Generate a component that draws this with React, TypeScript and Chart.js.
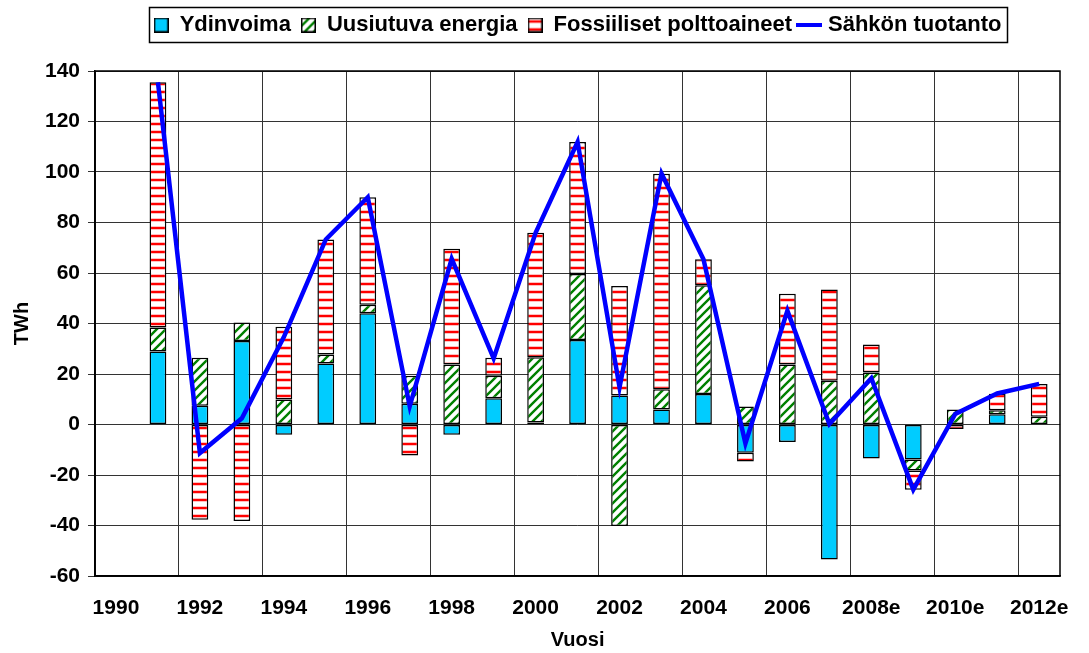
import React, { useEffect, useRef } from 'react';
import { Chart, registerables } from 'chart.js';

Chart.register(...registerables);

const categories = [
  '1990', '1991', '1992', '1993', '1994', '1995', '1996', '1997', '1998', '1999',
  '2000', '2001', '2002', '2003', '2004', '2005', '2006', '2007', '2008e', '2009e',
  '2010e', '2011e', '2012e',
];
const ydinvoima = [null, 28.9, 7.4, 33.1, -4.1, 24.2, 44.1, 8.2, -4.1, 10.4, 0.8, 33.5, 11.5, 5.9, 12.1, -11.2, -6.9, -53.5, -13.5, -13.9, 0, 4.1, 0];
const uusiutuva = [null, 9.5, 19.0, 7.3, 9.9, 3.5, 3.3, 11.1, 23.8, 8.9, 25.8, 26.1, -40.2, 8.1, 43.0, 7.1, 23.8, 17.3, 20.6, -4.3, 5.9, 1.5, 3.1];
const fossiiliset = [null, 97.1, -37.7, -38.2, 28.8, 45.6, 42.6, -12.3, 45.8, 7.1, 49.3, 52.3, 43.4, 85.3, 10.3, -3.5, 28.0, 36.2, 11.1, -7.6, -1.8, 6.6, 12.9];
const tuotanto = [null, 135.5, -11.3, 2.5, 34.6, 73.3, 90.0, 7.2, 65.6, 26.2, 75.9, 111.9, 14.7, 99.4, 65.4, -7.5, 45.1, 0.2, 18.3, -25.8, 4.2, 12.3, 16.1];
const seriesNames = ['Ydinvoima', 'Uusiutuva energia', 'Fossiiliset polttoaineet', 'Sähkön tuotanto'];
const yTicks = { min: -60, max: 140, step: 20 };

const FONT = "'Liberation Sans', Arial, sans-serif";

function hatchTile(): HTMLCanvasElement {
  const c = document.createElement('canvas');
  c.width = 9; c.height = 9;
  const g = c.getContext('2d')!;
  g.fillStyle = '#ffffff';
  g.fillRect(0, 0, 9, 9);
  g.strokeStyle = '#008000';
  g.lineWidth = 2.4;
  g.beginPath();
  g.moveTo(-2, 11); g.lineTo(11, -2);
  g.moveTo(-3, 3); g.lineTo(3, -3);
  g.moveTo(6, 12); g.lineTo(12, 6);
  g.stroke();
  return c;
}

function stripeTile(): HTMLCanvasElement {
  const c = document.createElement('canvas');
  c.width = 8; c.height = 8;
  const g = c.getContext('2d')!;
  g.fillStyle = '#ffffff';
  g.fillRect(0, 0, 8, 8);
  g.fillStyle = '#ffc0c0';
  g.fillRect(0, 2, 8, 1);
  g.fillRect(0, 5, 8, 1);
  g.fillStyle = '#ff0000';
  g.fillRect(0, 3, 8, 2);
  return c;
}

function pattern(tile: HTMLCanvasElement): CanvasPattern {
  return tile.getContext('2d')!.createPattern(tile, 'repeat')!;
}

function boxIcon(fill: string | HTMLCanvasElement): HTMLCanvasElement {
  const c = document.createElement('canvas');
  c.width = 15; c.height = 15;
  const g = c.getContext('2d')!;
  g.fillStyle = typeof fill === 'string' ? fill : g.createPattern(fill, 'repeat')!;
  g.fillRect(0, 0, 15, 15);
  g.strokeStyle = '#000';
  g.lineWidth = 1.5;
  g.strokeRect(0.75, 0.75, 13.5, 13.5);
  return c;
}

function lineIcon(): HTMLCanvasElement {
  const c = document.createElement('canvas');
  c.width = 26; c.height = 4;
  const g = c.getContext('2d')!;
  g.fillStyle = '#0000ff';
  g.fillRect(0, 0, 26, 4);
  return c;
}

const frames = {
  id: 'frames',
  beforeDatasetsDraw(chart: any) {
    const { ctx, chartArea: a } = chart;
    ctx.save();
    ctx.strokeStyle = '#000';
    ctx.lineWidth = 1.5;
    ctx.strokeRect(Math.round(a.left), Math.round(a.top), Math.round(a.right - a.left), Math.round(a.bottom - a.top));
    ctx.restore();
  },
  afterDraw(chart: any) {
    const lg = chart.legend;
    if (!lg || !lg.legendHitBoxes || !lg.legendHitBoxes.length) return;
    let x0 = Infinity, x1 = -Infinity, y0 = Infinity, y1 = -Infinity;
    lg.legendHitBoxes.forEach((b: any) => {
      x0 = Math.min(x0, b.left); x1 = Math.max(x1, b.left + b.width);
      y0 = Math.min(y0, b.top); y1 = Math.max(y1, b.top + b.height);
    });
    const { ctx } = chart;
    ctx.save();
    ctx.strokeStyle = '#000';
    ctx.lineWidth = 1.5;
    ctx.strokeRect(Math.round(x0 - 5) + 0.5, Math.round(y0 - 7) + 0.5, Math.round(x1 - x0 + 10), Math.round(y1 - y0 + 13));
    ctx.restore();
  },
};

export default function App() {
  const ref = useRef<HTMLCanvasElement>(null);

  useEffect(() => {
    const canvas = ref.current!;
    Chart.defaults.color = '#000';
    Chart.defaults.font.family = FONT;

    const hatch = hatchTile();
    const stripes = stripeTile();
    const icons = [boxIcon('#00ccff'), boxIcon(hatch), boxIcon(stripes), lineIcon()];

    const barCommon = {
      borderColor: '#000',
      borderWidth: 1.5,
      borderSkipped: false,
      stack: 'bars',
      order: 1,
    };

    const chart = new Chart(canvas, {
      type: 'bar',
      data: {
        labels: categories,
        datasets: [
          {
            type: 'line',
            label: seriesNames[3],
            data: tuotanto,
            borderColor: '#0000ff',
            backgroundColor: '#0000ff',
            borderWidth: 4.5,
            pointRadius: 0,
            tension: 0,
            stack: 'line',
            order: 0,
          } as any,
          { label: seriesNames[0], data: ydinvoima, backgroundColor: '#00ccff', ...barCommon },
          { label: seriesNames[1], data: uusiutuva, backgroundColor: pattern(hatch), ...barCommon },
          { label: seriesNames[2], data: fossiiliset, backgroundColor: pattern(stripes), ...barCommon },
        ],
      },
      options: {
        animation: false,
        responsive: true,
        maintainAspectRatio: false,
        layout: { padding: { top: 4, left: 0, right: 16, bottom: 0 } },
        datasets: { bar: { barPercentage: 0.4, categoryPercentage: 1 } },
        plugins: {
          tooltip: { enabled: false },
          title: {
            display: true,
            text: '',
            weight: 100,
            font: { size: 10 },
            padding: { top: 0, bottom: 13 },
          } as any,
          legend: {
            position: 'top',
            fullSize: false,
            labels: {
              usePointStyle: true,
              pointStyleWidth: 15,
              boxHeight: 15,
              padding: 10,
              font: { size: 22, weight: 'bold', family: FONT },
              generateLabels: () => {
                const order = [1, 2, 3, 0];
                return order.map((di, i) => ({
                  text: seriesNames[i],
                  datasetIndex: di,
                  pointStyle: icons[i],
                  fillStyle: '#000',
                  strokeStyle: '#000',
                  lineWidth: 0,
                  hidden: false,
                  fontColor: '#000',
                }));
              },
            },
          },
        },
        scales: {
          x: {
            stacked: true,
            offset: true,
            grid: {
              offset: true,
              drawTicks: false,
              lineWidth: 1,
              color: (c: any) => (c.index % 2 === 0 ? '#333' : 'rgba(0,0,0,0)'),
            },
            border: { display: true, color: '#000', width: 1.5 },
            ticks: {
              autoSkip: false,
              maxRotation: 0,
              padding: 20,
              font: { size: 21, weight: 'bold' },
              callback: (_v: any, i: number) => (i % 2 === 0 ? categories[i] : ''),
            },
            title: {
              display: true,
              text: 'Vuosi',
              font: { size: 20, weight: 'bold' },
              padding: { top: 0, bottom: 1 },
            },
            afterFit: (s: any) => { s.height = 77; },
          },
          y: {
            stacked: true,
            min: yTicks.min,
            max: yTicks.max,
            ticks: {
              stepSize: yTicks.step,
              padding: 8,
              font: { size: 21, weight: 'bold' },
            },
            grid: { color: '#333', lineWidth: 1, tickLength: 7 },
            border: { display: true, color: '#000', width: 1.5 },
            title: {
              display: true,
              text: 'TWh',
              font: { size: 20, weight: 'bold' },
              padding: { top: 10, bottom: 0 },
            },
            afterFit: (s: any) => { s.width = 95; },
          },
        },
      },
      plugins: [frames],
    });
    return () => chart.destroy();
  }, []);

  return (
    <div style={{ position: 'fixed', left: 0, top: 0, width: 1089, height: 653, background: '#fff' }}>
      <canvas ref={ref} />
    </div>
  );
}
